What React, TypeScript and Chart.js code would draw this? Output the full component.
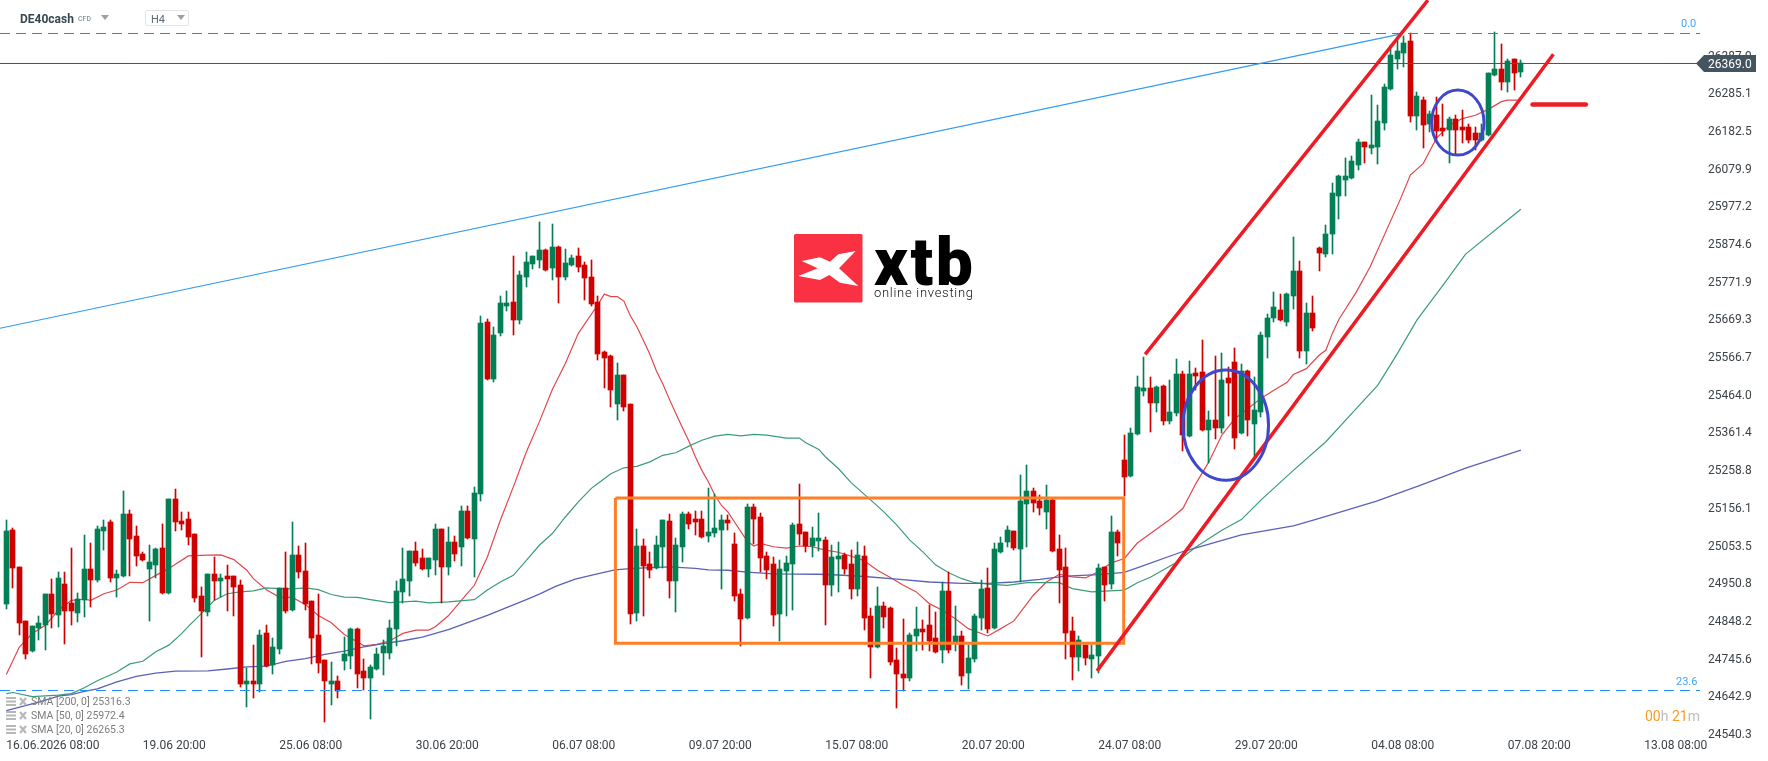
import { useEffect, useRef } from 'react';
import Chart from 'chart.js/auto';

const opens = [
  24896,25098,24997,24850,24768,24831,24839,24924,24866,24951,
  24900,24872,24907,24992,24962,25095,25120,24967,24973,25142,
  25082,25033,24992,25003,25049,24926,25182,25122,25128,25087,
  24918,24875,24978,24959,24973,24973,24948,24679,24687,24679,
  24817,24730,24774,24940,24880,25030,24986,24905,24812,24744,
  24679,24687,24741,24755,24828,24714,24695,24719,24763,24763,
  24828,24929,24959,25041,25022,24992,25016,25101,24997,25065,
  25052,25150,25074,25196,25665,25509,25634,25708,25719,25670,
  25787,25822,25833,25861,25811,25869,25787,25820,25844,25820,
  25787,25719,25583,25572,25441,25520,25441,24872,25054,25005,
  24995,25052,25123,24959,25052,25142,25128,25128,25082,25090,
  25098,25125,25060,24924,24858,25161,25133,25027,25005,24869,
  24986,25005,25114,25093,25054,25068,25071,24948,25019,25030,
  25005,24937,25027,24864,24779,24891,24886,24744,24706,24695,
  24809,24828,24839,24804,24771,24932,24793,24809,24709,24747,
  24858,24940,24831,25038,25065,25095,25046,25169,25204,25177,
  25147,25180,25046,24997,24823,24752,24785,24747,24755,24997,
  24951,25093,25289,25245,25359,25477,25485,25444,25490,25395,
  25417,25523,25354,25526,25528,25370,25398,25376,25512,25555,
  25362,25531,25387,25419,25624,25675,25697,25665,25735,25803,
  25585,25689,25866,25850,25904,26007,26051,26057,26092,26155,
  26138,26141,26206,26299,26381,26397,26430,26226,26269,26204,
  26228,26193,26187,26217,26196,26196,26179,26160,26174,26337,
  26353,26318,26381,26345,
];
const highs = [
  25125,25103,24997,24850,24837,24864,24924,24965,24984,24984,
  25049,24926,25084,25063,25109,25127,25125,24989,25204,25152,
  25109,25038,25057,25049,25114,25182,25210,25147,25147,25089,
  24943,24978,25024,24978,25003,24973,24962,24722,24785,24826,
  24839,24804,24940,25038,25120,25054,25063,24905,24924,24744,
  24738,24700,24807,24831,24831,24747,24730,24777,24798,24853,
  24959,25049,25041,25065,25046,25022,25114,25101,25106,25082,
  25163,25163,25215,25681,25673,25651,25735,25749,25844,25803,
  25855,25844,25937,25863,25931,25871,25863,25847,25866,25828,
  25833,25735,25585,25575,25553,25520,25441,25101,25074,25038,
  25082,25125,25142,25076,25147,25147,25150,25150,25212,25196,
  25139,25139,25090,24937,25169,25169,25144,25038,25024,25016,
  25027,25117,25223,25093,25106,25144,25079,25057,25065,25035,
  25044,25065,25054,24885,24943,24902,24888,24778,24856,24817,
  24888,24853,24894,24875,24956,24984,24891,24823,24785,24869,
  24962,24995,25063,25079,25109,25095,25248,25275,25212,25193,
  25221,25182,25084,25049,24861,24809,24785,24785,25005,24997,
  25136,25098,25357,25376,25517,25569,25515,25490,25493,25506,
  25564,25531,25558,25539,25615,25422,25572,25580,25542,25594,
  25550,25534,25515,25637,25688,25746,25741,25743,25896,25831,
  25716,25735,25870,25929,26043,26065,26111,26117,26163,26155,
  26283,26255,26314,26419,26442,26443,26451,26291,26277,26239,
  26277,26258,26223,26228,26242,26204,26196,26204,26344,26454,
  26422,26381,26381,26378,
];
const lows = [
  24883,24940,24812,24747,24766,24798,24771,24831,24834,24787,
  24839,24847,24861,24888,24956,25043,24956,24915,24971,24973,
  25000,25014,24850,24967,24924,24924,25095,25098,25057,24902,
  24752,24864,24907,24915,24877,24864,24670,24616,24640,24657,
  24726,24706,24760,24872,24878,24967,24880,24733,24709,24575,
  24621,24640,24717,24719,24669,24662,24583,24717,24703,24747,
  24782,24899,24918,25000,24989,24970,24975,24899,24975,25014,
  25000,25074,24970,25177,25507,25501,25626,25694,25629,25659,
  25760,25809,25811,25803,25779,25716,25779,25818,25801,25724,
  25708,25561,25485,25433,25398,25422,24842,24850,24864,24967,
  24993,24995,24913,24875,25011,25101,25084,25076,25065,25079,
  24937,25098,24905,24782,24856,25060,24984,24965,24837,24796,
  24864,24880,25057,25038,25024,25041,24839,24918,24929,24978,
  24910,24918,24826,24695,24776,24831,24730,24613,24659,24687,
  24769,24771,24769,24764,24736,24763,24769,24676,24665,24739,
  24826,24817,24829,25036,25052,25044,24956,25052,25147,25139,
  25101,25039,24899,24747,24690,24714,24730,24695,24709,24905,
  24937,25027,25191,25243,25357,25463,25365,25419,25384,25387,
  25408,25313,25352,25479,25368,25280,25346,25362,25408,25319,
  25360,25354,25299,25406,25566,25664,25667,25654,25700,25566,
  25550,25640,25803,25841,25850,25945,26007,26055,26078,26097,
  26122,26095,26187,26296,26353,26359,26209,26187,26138,26182,
  26160,26171,26097,26122,26152,26152,26133,26158,26172,26335,
  26296,26291,26296,26332,
];
const closes = [
  25095,24995,24846,24762,24837,24845,24924,24869,24967,24877,
  24877,24910,24992,24962,25101,25106,24967,24978,25142,25073,
  25027,25016,25011,25046,24926,25182,25120,25114,25079,24913,
  24877,24978,24959,24967,24965,24943,24679,24687,24679,24812,
  24728,24779,24940,24877,25030,24984,24896,24804,24736,24687,
  24687,24659,24760,24828,24706,24695,24725,24760,24782,24831,
  24932,24965,25041,25008,24992,25022,25101,24997,25065,25033,
  25150,25076,25199,25662,25509,25629,25716,25716,25670,25792,
  25828,25844,25861,25806,25869,25787,25825,25839,25814,25784,
  25713,25577,25566,25479,25520,25433,24869,25054,25000,24989,
  25057,25125,24959,25057,25142,25114,25120,25079,25093,25103,
  25125,25117,24918,24856,25161,25128,25022,24989,24867,24992,
  25008,25112,25087,25054,25076,25076,24948,25024,25027,24992,
  24937,25030,24858,24779,24891,24861,24739,24706,24695,24812,
  24828,24820,24796,24766,24932,24771,24809,24700,24749,24864,
  24937,24828,25046,25063,25098,25049,25177,25204,25172,25158,
  25180,25041,24989,24818,24752,24798,24749,24758,24995,24948,
  25093,25063,25242,25362,25487,25485,25444,25487,25395,25419,
  25523,25357,25523,25517,25370,25398,25376,25506,25498,25349,
  25531,25398,25425,25629,25675,25705,25670,25741,25803,25585,
  25689,25648,25852,25904,26016,26062,26062,26103,26155,26141,
  26147,26212,26304,26392,26403,26424,26226,26280,26201,26231,
  26185,26185,26217,26187,26187,26160,26160,26179,26343,26353,
  26318,26375,26343,26369,
];

const sma20x = [0,2,4,6,8,10,12,13,15,17,19,21,23,25,28,31,33,35,37,38,40,42,44,46,48,50,52,54,55,57,59,61,63,65,66,68,70,72,74,76,78,80,82,84,86,88,91,92,93,94,95,96,97,98,99,100,101,102,103,104,105,106,107,108,109,110,111,112,113,114,115,116,118,120,122,124,126,128,130,132,134,136,138,140,142,144,146,148,151,153,155,158,160,162,164,166,168,170,172,174,179,181,183,185,187,189,191,193,195,197,198,200,202,203,204,205,207.7,209.8,214.5,216,218,220,222,224,226,228,230,231,233];
const sma20y = [24705,24780,24817,24839,24880,24907,24910,24907,24925,24935,24956,24955,24975,24994,25028,25030,25031,25018,24989,24966,24936,24916,24915,24896,24866,24846,24814,24794,24783,24787,24797,24817,24826,24826,24835,24865,24907,24948,25025,25125,25216,25311,25393,25481,25552,25634,25712,25741,25734,25734,25722,25682,25652,25615,25577,25532,25496,25455,25416,25378,25341,25298,25261,25230,25193,25166,25148,25121,25094,25068,25055,25062,25053,25049,25055,25053,25044,25038,25027,25015,24989,24969,24948,24930,24898,24880,24857,24830,24810,24830,24851,24921,24957,24978,24971,24968,24985,25009,25021,25063,25127,25157,25225,25284,25357,25402,25429,25457,25479,25500,25522,25538,25575,25588,25634,25672,25747,25815,26001,26065,26097,26165,26201,26219,26228,26244,26265,26269,26269];
const sma50x = [0,1,4,8,10,12,14,17,19,21,23,25,27,28,30,32,34,36,38,40,42,44,46,48,50,52,54,56,59,61,63,65,68,72,74,76,78,80,82,84,86,88,90,91,93,95,97,99,101,103,105,107,109,111,113,115,117,120,122,123,125,126,128,130,133,135,137,139,141,143,145,147,149,151,154,157,159,162,164,167,169,172,174,176,180,183,187,190,193,198,203,207,211,214,217,221,224.5,233];
const sma50y = [24653,24656,24645,24649,24653,24669,24688,24712,24734,24741,24767,24785,24817,24836,24871,24907,24925,24930,24933,24941,24939,24938,24941,24936,24923,24916,24915,24909,24901,24903,24905,24900,24903,24909,24935,24957,24975,25016,25057,25089,25134,25175,25212,25225,25252,25268,25272,25284,25302,25309,25327,25343,25354,25359,25355,25359,25357,25349,25349,25336,25318,25298,25266,25227,25180,25148,25112,25071,25039,25003,24982,24966,24955,24951,24948,24955,24955,24955,24939,24930,24932,24935,24955,24970,25010,25052,25098,25127,25180,25261,25339,25416,25493,25579,25670,25765,25850,25972];
const sma200x = [0,5,8,10,12,14,17,20,23,26,31,34,37,40,43,46,49,52,55,58,61,64,68,74,80,82,84.5,87.5,90.6,93.6,96.5,102,106,108,111,114,118,125,128,132,137,142,147,151,155,159,163,168,172,174.4,181,190,198,202,210.8,217.5,224.5,233];
const sma200y = [24607,24630,24646,24650,24659,24666,24685,24700,24709,24714,24715,24720,24726,24728,24741,24748,24760,24769,24780,24789,24797,24807,24827,24866,24909,24924,24945,24965,24978,24990,24994,24998,24994,24990,24989,24984,24979,24978,24976,24972,24965,24957,24953,24953,24957,24964,24973,24977,24983,24998,25040,25085,25110,25130,25177,25220,25267,25316];

const yTicks = [24540.3,24642.9,24745.6,24848.2,24950.8,25053.5,25156.1,25258.8,25361.4,25464.0,25566.7,25669.3,25771.9,25874.6,25977.2,26079.9,26182.5,26285.1,26387.9];
const xTickIndex = [0,21,42,63,84,105,126,147,168,189,210,231,252];
const xTickLabels = ['16.06.2026 08:00','19.06 20:00','25.06 08:00','30.06 20:00','06.07 08:00','09.07 20:00','15.07 08:00','20.07 20:00','24.07 08:00','29.07 20:00','04.08 08:00','07.08 20:00','13.08 08:00'];

const lastPrice = 26369;
const fib0 = 26450.7;
const fib236 = 24661.5;
const xMin = -0.974;
const xMax = 260.56;
const yMin = 24540.3;
const yMax = 26541.9;

const blueTrendX = [xMin, 214.4];
const blueTrendY = [25648, 26449];
const upperChannelX = [175.2, 218.7];
const upperChannelY = [25577, 26541.4];
const lowerChannelX = [167.8, 238];
const lowerChannelY = [24715, 26394];
const targetX = [234.8, 243];
const targetY = [26257, 26257];
const boxX = [93.7, 171.9, 171.9, 93.7, 93.7];
const boxY = [25186, 25186, 24790, 24790, 25186];
// centre and half sizes in chart units: [candle index, price, half candles, half price]
const ellipses = [
  [187.6, 25384, 6.58, 150],
  [223.3, 26208, 4.03, 88.5],
];

const GREEN = '#037f55';
const RED = '#cf0000';

const zip = (xs: number[], ys: number[]) => xs.map((x, i) => ({ x, y: ys[i] }));

const lineSet = (xs: number[], ys: number[], color: string, width: number, order: number, extra = {}) => ({
  type: 'line' as const,
  data: zip(xs, ys),
  borderColor: color,
  borderWidth: width,
  pointRadius: 0,
  tension: 0,
  order,
  ...extra,
});

// snap candles to whole pixels, the way the trading platform draws them
const snapBars = {
  id: 'snapBars',
  afterDatasetsUpdate(chart: any) {
    chart.data.datasets.forEach((ds: any, i: number) => {
      if (ds.type === 'line') return;
      chart.getDatasetMeta(i).data.forEach((bar: any) => {
        bar.x = Math.floor(bar.x) + 0.5;
        const top = Math.round(bar.y);
        let base = Math.round(bar.base);
        if (base === top) base = top + 1;
        bar.y = top;
        bar.base = base;
        bar.height = base - top;
      });
    });
  },
};

const drawEllipses = {
  id: 'drawEllipses',
  afterDatasetsDraw(chart: any) {
    const { ctx } = chart;
    const xs = chart.scales.x;
    const ys = chart.scales.y;
    ctx.save();
    ctx.strokeStyle = '#3f48cc';
    ctx.lineWidth = 3;
    ellipses.forEach(([cx, cy, rx, ry]) => {
      const px = xs.getPixelForValue(cx);
      const py = ys.getPixelForValue(cy);
      ctx.beginPath();
      ctx.ellipse(px, py, xs.getPixelForValue(cx + rx) - px, py - ys.getPixelForValue(cy + ry), 0, 0, Math.PI * 2);
      ctx.stroke();
    });
    ctx.restore();
  },
};

const abs = (left: number, top: number, extra = {}) => ({
  position: 'absolute' as const,
  left,
  top,
  whiteSpace: 'nowrap' as const,
  fontFamily: 'Roboto',
  ...extra,
});

function Triangle({ left, top }: { left: number; top: number }) {
  return (
    <svg style={{ position: 'absolute', left, top }} width="8" height="5">
      <polygon points="0,0 8,0 4,5" fill="#9e9e9e" />
    </svg>
  );
}

const legendRows = ['SMA [200, 0] 25316.3', 'SMA [50, 0] 25972.4', 'SMA [20, 0] 26265.3'];

export default function App() {
  const chartRef = useRef<HTMLCanvasElement | null>(null);

  useEffect(() => {
    if (!chartRef.current) return;
    const idx = opens.map((_, i) => i);
    const colors = idx.map((i) => (closes[i] >= opens[i] ? GREEN : RED));
    const fibStyle = { borderDash: [10, 6] };

    const chart = new Chart(chartRef.current, {
      type: 'bar',
      data: {
        datasets: [
          lineSet(sma200x, sma200y, '#5a62b8', 1.3, 10),
          lineSet(sma50x, sma50y, '#3a9c78', 1.2, 10),
          lineSet(sma20x, sma20y, '#e2474b', 1.2, 10),
          {
            type: 'bar',
            data: idx.map((i) => ({ x: i, y: [lows[i], highs[i]] })),
            backgroundColor: colors,
            barThickness: 1,
            grouped: false,
            order: 6,
          },
          {
            type: 'bar',
            data: idx.map((i) => ({ x: i, y: [opens[i], closes[i]] })),
            backgroundColor: colors,
            barThickness: 5,
            grouped: false,
            order: 5,
          },
          lineSet([xMin, xMax], [fib0, fib0], '#1e88e5', 1, 4, fibStyle),
          lineSet([xMin, xMax], [fib236, fib236], '#1e90ff', 1, 4, fibStyle),
          lineSet([xMin, xMax], [lastPrice, lastPrice], '#455560', 1, 4),
          lineSet(blueTrendX, blueTrendY, '#2f9bf4', 1.2, 3),
          lineSet(boxX, boxY, '#ff7f27', 3, 2, { borderJoinStyle: 'miter' }),
          lineSet(upperChannelX, upperChannelY, '#ed1c24', 3.5, 1),
          lineSet(lowerChannelX, lowerChannelY, '#ed1c24', 3.5, 1),
          lineSet(targetX, targetY, '#ed1c24', 4.5, 1, { borderCapStyle: 'round' }),
        ] as any,
      },
      options: {
        responsive: false,
        animation: false,
        events: [],
        layout: { padding: 0 },
        plugins: { legend: { display: false }, tooltip: { enabled: false } },
        scales: {
          x: {
            type: 'linear',
            min: xMin,
            max: xMax,
            offset: false,
            grid: { display: false, drawTicks: false },
            border: { display: false },
            afterBuildTicks: (scale: any) => {
              scale.ticks = xTickIndex.map((value) => ({ value }));
            },
            afterFit: (scale: any) => {
              scale.height = 26;
              scale.paddingLeft = 0;
              scale.paddingRight = 0;
            },
            ticks: {
              autoSkip: false,
              maxRotation: 0,
              minRotation: 0,
              align: 'start',
              padding: 4,
              color: '#3c4248',
              font: { family: 'Roboto', size: 12 },
              callback: (v: any) => xTickLabels[xTickIndex.indexOf(Number(v))],
            },
          },
          y: {
            position: 'right',
            min: yMin,
            max: yMax,
            grid: { display: false, drawTicks: false },
            border: { display: false },
            afterBuildTicks: (scale: any) => {
              scale.ticks = yTicks.map((value) => ({ value }));
            },
            afterFit: (scale: any) => {
              scale.width = 68;
              scale.paddingTop = 0;
              scale.paddingBottom = 0;
            },
            ticks: {
              padding: 8,
              color: '#3c4248',
              font: { family: 'Roboto', size: 12 },
              callback: (v: any) => Number(v).toFixed(1),
            },
          },
        },
      } as any,
      plugins: [snapBars, drawEllipses],
    });

    return () => chart.destroy();
  }, []);

  return (
    <div style={{ position: 'fixed', left: 0, top: 0, width: 1768, height: 761, background: '#fff', overflow: 'hidden' }}>
      <canvas ref={chartRef} width={1768} height={761} style={{ position: 'absolute', left: 0, top: 0 }} />

      <div style={abs(20, 11, { fontSize: 12, fontWeight: 700, color: '#37474f', lineHeight: '16px' })}>DE40cash</div>
      <div style={abs(78, 15, { fontSize: 7, fontWeight: 500, color: '#8a949b', lineHeight: '9px' })}>CFD</div>
      <Triangle left={101} top={15} />
      <div style={{ position: 'absolute', left: 145, top: 10, width: 42, height: 14, border: '1px solid #e4e4e4', borderRadius: 2 }} />
      <div style={abs(151, 13, { fontSize: 11, color: '#616b73', lineHeight: '13px' })}>H4</div>
      <Triangle left={177} top={15} />

      <div style={abs(1681, 17, { fontSize: 11, color: '#42a5f5', lineHeight: '13px' })}>0.0</div>
      <div style={abs(1676, 675, { fontSize: 11, color: '#42a5f5', lineHeight: '13px' })}>23.6</div>

      <svg style={{ position: 'absolute', left: 1696, top: 55 }} width="60" height="17">
        <polygon points="0,8.5 8,0 60,0 60,17 8,17" fill="#455560" />
      </svg>
      <div style={abs(1708, 56, { fontSize: 12, color: '#fff', lineHeight: '16px' })}>{lastPrice.toFixed(1)}</div>

      {/* logo */}
      <svg style={{ position: 'absolute', left: 794, top: 234 }} width="185" height="72">
        <rect x="0" y="0" width="68.5" height="68.5" rx="1.5" fill="#f93143" />
        <polygon
          points="7.7,27 26,23.3 36,27.7 44.3,20.3 61.7,17 45,34.3 64.3,52 46,48.7 35.3,41 26,46 4.3,42 23.7,34.3"
          fill="#fff"
        />
        <text x="80" y="51" fontFamily="Roboto" fontWeight="900" fontSize="66" fill="#000" textLength="99" lengthAdjust="spacing">xtb</text>
        <text x="80" y="63" fontFamily="Roboto" fontWeight="300" fontSize="13" fill="#111" textLength="99" lengthAdjust="spacing">online investing</text>
      </svg>

      {legendRows.map((row, i) => (
        <div key={row}>
          <svg style={{ position: 'absolute', left: 6, top: 696 + i * 14 }} width="22" height="11">
            <g fill="#b8b8b8">
              <rect x="0" y="1" width="10" height="2" />
              <rect x="0" y="4.5" width="10" height="2" />
              <rect x="0" y="8" width="10" height="2" />
            </g>
            <path d="M14 2 L20 9 M20 2 L14 9" stroke="#b8b8b8" strokeWidth="2.2" />
          </svg>
          <div style={abs(31, 695 + i * 14, { fontSize: 10.5, color: '#7d7d7d', lineHeight: '13px' })}>{row}</div>
        </div>
      ))}

      <div style={abs(1645, 707, { fontSize: 14, color: '#bdbdbd', lineHeight: '18px' })}>
        <span style={{ color: '#ff9a1f' }}>00</span>h <span style={{ color: '#ff9a1f' }}>21</span>m
      </div>
    </div>
  );
}
